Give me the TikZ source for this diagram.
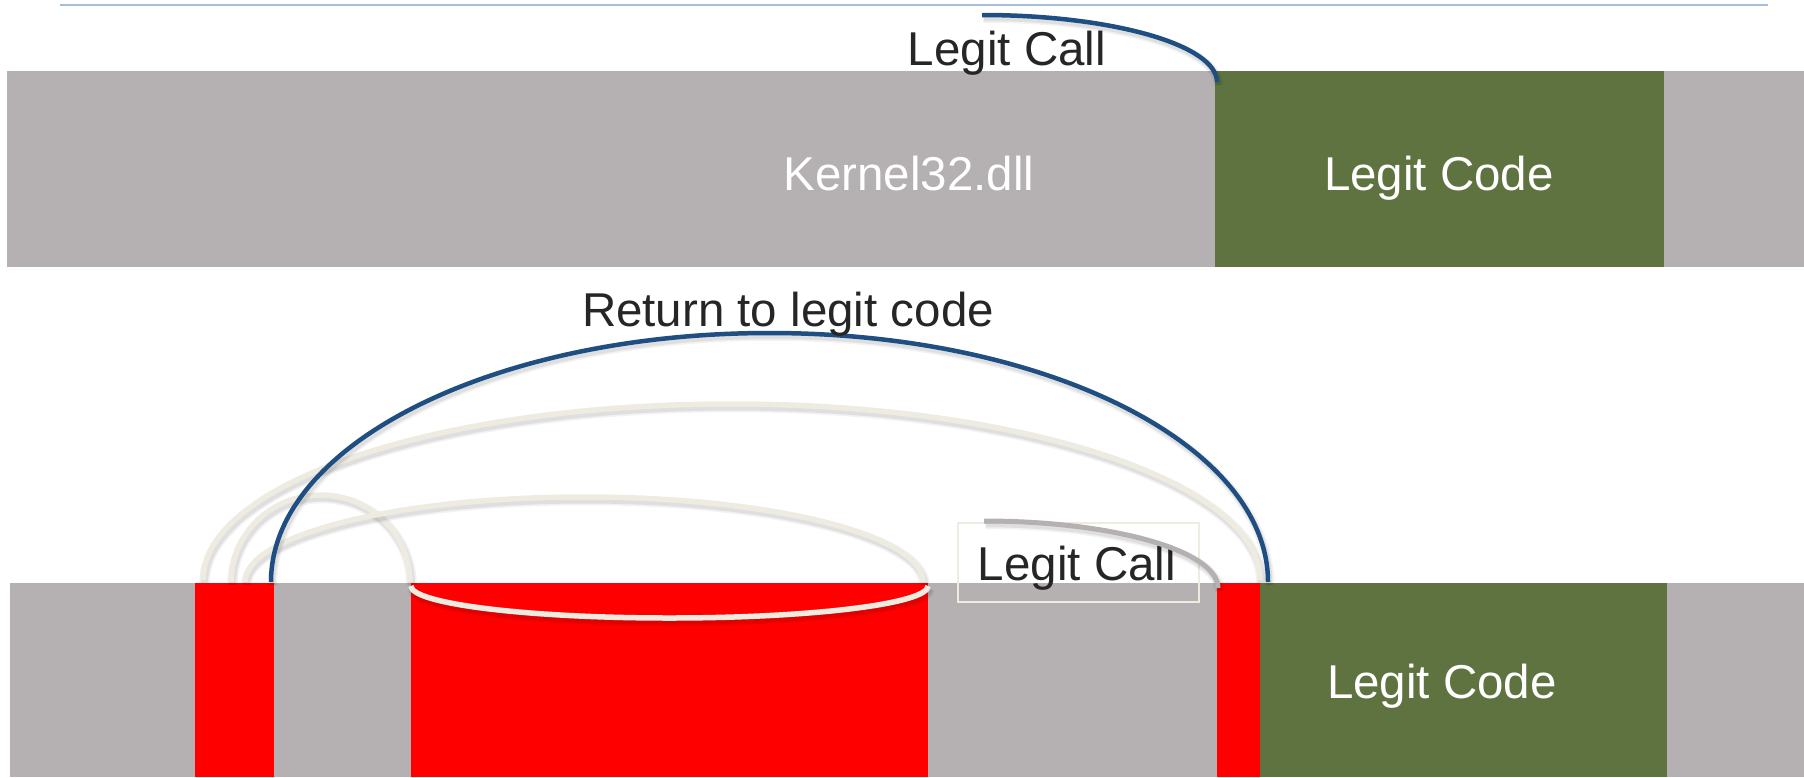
\documentclass[tikz,border=0pt]{standalone}
\usepackage{fontspec}
\setmainfont{Liberation Sans}
\definecolor{bargray}{HTML}{B5B0B2}
\definecolor{codegreen}{HTML}{5F7340}
\definecolor{evilred}{HTML}{FF0000}
\definecolor{arcblue}{HTML}{1F4E82}
\definecolor{arcbeige}{HTML}{EEECE1}
\definecolor{toplinecol}{HTML}{A3BED9}
\definecolor{txtdark}{HTML}{262626}
\begin{document}
\begin{tikzpicture}[x=1pt,y=-1pt,
  block/.style={anchor=north west,inner sep=0pt,outer sep=0pt,draw=none},
  lbl/.style={anchor=base,inner sep=0pt,font=\fontsize{47.5}{57}\selectfont},
  shadowed/.style={
    preaction={draw=black,opacity=0.05,line width=#1+5pt,transform canvas={shift={(1.5pt,-3pt)}}},
    preaction={draw=black,opacity=0.08,line width=#1+1.5pt,transform canvas={shift={(1.5pt,-3pt)}}}},
  bluearc/.style={draw=arcblue,line width=4.5pt,shadowed=4.5pt},
  beigearc/.style={draw=arcbeige,line width=5.5pt,shadowed=5.5pt},
  grayarc/.style={draw=bargray,line width=5pt,shadowed=5pt}]
\useasboundingbox (0,0) rectangle (1804,777);
% top separator line
\coordinate (tl1) at (60,5);
\coordinate (tl2) at (1768,5);
\draw[toplinecol,line width=2.2pt] (tl1) -- (tl2);
% top bar
\node[block,fill=bargray,minimum width=1797pt,minimum height=196pt] (topbar) at (7,71) {};
\node[block,fill=codegreen,minimum width=449pt,minimum height=196pt] (topgreen) at (1215,71) {};
\node[lbl,text=white] (kernel) at (909,190) {Kernel32.dll};
\node[lbl,text=white] (topcode) at (1439,190) {Legit Code};
% top call arc
\coordinate (tc1) at (982,15);
\draw[bluearc] (tc1) arc[start angle=270,end angle=360,x radius=235,y radius=67] coordinate (tc2);
\node[lbl,text=txtdark] (topcall) at (1007,65) {Legit Call};
% bottom bar
\node[block,fill=bargray,minimum width=1794pt,minimum height=194pt] (botbar) at (10,583) {};
\node[block,fill=evilred,minimum width=79pt,minimum height=194pt] (red1) at (195,583) {};
\node[block,fill=evilred,minimum width=517pt,minimum height=194pt] (red2) at (411,583) {};
\node[block,fill=evilred,minimum width=43pt,minimum height=194pt] (red3) at (1217,583) {};
\node[block,fill=codegreen,minimum width=407pt,minimum height=194pt] (botgreen) at (1260,583) {};
\node[lbl,text=white] (botcode) at (1442,698) {Legit Code};
% Legit Call box
\node[block,draw=arcbeige,line width=2pt,minimum width=241pt,minimum height=79pt] (callbox) at (958,523) {};
\node[lbl,text=txtdark] (botcall) at (1077,580) {Legit Call};
% small gray call arc
\coordinate (g1) at (984,521);
\draw[grayarc] (g1) arc[start angle=270,end angle=360,x radius=234,y radius=67];
% beige arcs
\coordinate (bB) at (231,582);
\draw[beigearc] (bB) arc[start angle=180,end angle=360,x radius=89.5,y radius=87];
\coordinate (bw) at (411,586);
\draw[beigearc] (bw) arc[start angle=180,end angle=0,x radius=258.5,y radius=32];
\coordinate (bA) at (203,580);
\draw[beigearc] (bA) arc[start angle=180,end angle=360,x radius=528.5,y radius=176];
\coordinate (bC) at (245,582);
\draw[beigearc] (bC) arc[start angle=180,end angle=360,x radius=339,y radius=85];
% big blue return arc
\coordinate (r1) at (271,582);
\draw[bluearc] (r1) arc[start angle=180,end angle=360,x radius=498.5,y radius=249];
\node[lbl,text=txtdark] (ret) at (788,326) {Return to legit code};
\end{tikzpicture}
\end{document}
